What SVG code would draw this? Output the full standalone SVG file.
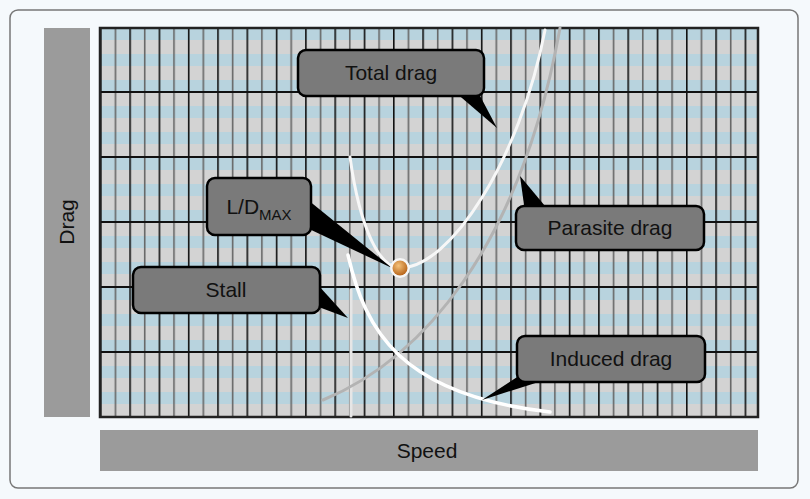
<svg xmlns="http://www.w3.org/2000/svg" width="810" height="499" viewBox="0 0 810 499">
<style>
.box{fill:#7a7a7a;stroke:#000;stroke-width:2.5}
.lbl{font-family:"Liberation Sans",Arial,sans-serif;font-size:21px;fill:#111;text-anchor:middle}
.ptr{fill:#000}
</style>
<defs>
<pattern id="stripes" x="0" y="28" width="10" height="26" patternUnits="userSpaceOnUse">
<rect width="10" height="26" fill="#d3d3d3"/><rect width="10" height="12" fill="#b8d3de"/>
</pattern>
<pattern id="vlines" x="100" y="0" width="29.3" height="10" patternUnits="userSpaceOnUse">
<rect x="0" width="1.6" height="10" fill="#111"/><rect x="14.6" width="1.6" height="10" fill="#666"/>
</pattern>
<radialGradient id="ball" cx="0.4" cy="0.35" r="0.65"><stop offset="0" stop-color="#f5c27a"/><stop offset="1" stop-color="#b8661c"/></radialGradient>
</defs>
<rect x="0" y="0" width="810" height="499" fill="#f5f9fc"/>
<rect x="10" y="10" width="788" height="478" rx="8" fill="#f5f9fc" stroke="#777" stroke-width="1.5"/>
<g id="axes">
<rect x="44" y="28" width="46" height="389" fill="#9b9b9b"/>
<text class="lbl" transform="translate(74,222) rotate(-90)">Drag</text>
<rect x="100" y="430" width="658" height="41" fill="#9b9b9b"/>
<text class="lbl" x="427" y="458">Speed</text>
</g>
<g id="grid">
<rect x="100" y="28" width="658" height="389" fill="url(#stripes)"/>
<rect x="100" y="28" width="658" height="389" fill="url(#vlines)"/>
<g stroke="#111" stroke-width="2">
<line x1="100" y1="92" x2="758" y2="92"/><line x1="100" y1="157" x2="758" y2="157"/>
<line x1="100" y1="222" x2="758" y2="222"/><line x1="100" y1="287" x2="758" y2="287"/>
<line x1="100" y1="352" x2="758" y2="352"/>
</g>
<rect x="100" y="28" width="658" height="389" fill="none" stroke="#222" stroke-width="2.5"/>
</g>
<g id="connectors" fill="none" stroke-linecap="round">
<line x1="351" y1="290" x2="351" y2="416" stroke="#e6e6e6" stroke-width="3"/>
<path d="M323,400 C420,360 520,250 560,28" stroke="#b3b3b3" stroke-width="3"/>
<path d="M350,157 C360,230 380,268 400,268 C450,268 520,160 545,30" stroke="#f7f7f7" stroke-width="3"/>
<path d="M348,255 C365,330 400,395 550,412" stroke="#fff" stroke-width="3.5"/>
</g>
<g id="total-drag"><path class="ptr" d="M455,92 L497,128 L478,92Z"/><rect class="box" x="298" y="50" width="186" height="46" rx="8"/><text class="lbl" x="391" y="80">Total drag</text></g>
<g id="ld-max"><path class="ptr" d="M290,220 L392,268 L308,200Z"/><rect class="box" x="207" y="178" width="104" height="57" rx="8"/><text class="lbl" x="259" y="214">L/D<tspan font-size="15" dy="6">MAX</tspan></text></g>
<g id="point"><circle cx="400" cy="268" r="10" fill="#f7f7f7"/><circle cx="400" cy="268" r="7.5" fill="url(#ball)"/></g>
<g id="stall"><path class="ptr" d="M300,300 L348,318 L318,285Z"/><rect class="box" x="133" y="267" width="187" height="46" rx="8"/><text class="lbl" x="226" y="297">Stall</text></g>
<g id="parasite-drag"><path class="ptr" d="M520,176 L525,212 L545,206Z"/><rect class="box" x="516" y="206" width="188" height="44" rx="8"/><text class="lbl" x="610" y="235">Parasite drag</text></g>
<g id="induced-drag"><path class="ptr" d="M482,400 L528,370 L545,380Z"/><rect class="box" x="517" y="336" width="188" height="46" rx="8"/><text class="lbl" x="611" y="366">Induced drag</text></g>
</svg>
